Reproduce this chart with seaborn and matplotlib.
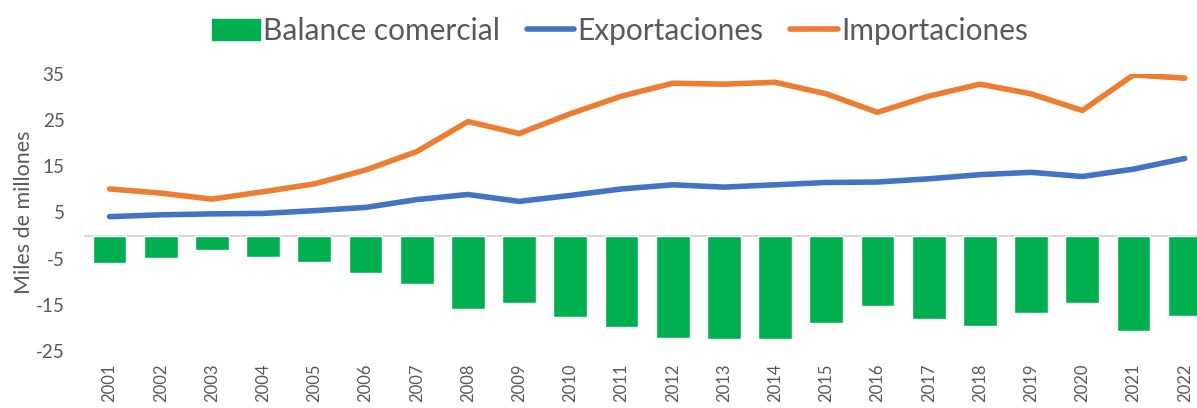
import numpy as np
import pandas as pd
import matplotlib
matplotlib.use('Agg')
import matplotlib.pyplot as plt
import seaborn as sns
from matplotlib.patches import Patch
from matplotlib.lines import Line2D

years = list(range(2001, 2023))
exportaciones = [4.1, 4.5, 4.7, 4.8, 5.4, 6.1, 7.8, 8.9, 7.4, 8.7, 10.1,
                 11.0, 10.5, 11.0, 11.5, 11.6, 12.3, 13.2, 13.7, 12.8, 14.4, 16.7]
importaciones = [10.1, 9.2, 7.9, 9.5, 11.2, 14.2, 18.2, 24.7, 22.1, 26.4, 30.2,
                 33.0, 32.8, 33.2, 30.7, 26.7, 30.2, 32.8, 30.7, 27.1, 34.8, 34.1]
balance = [-6.0, -4.9, -3.1, -4.7, -5.8, -8.1, -10.5, -15.9, -14.6, -17.7, -19.8,
           -22.1, -22.4, -22.4, -18.9, -15.2, -18.0, -19.5, -16.7, -14.6, -20.7, -17.5]

df = pd.DataFrame({'year': years, 'exp': exportaciones, 'imp': importaciones, 'bal': balance})

sns.set_style('white')
plt.rcParams['font.family'] = ['Lato', 'DejaVu Sans']
plt.rcParams['axes.unicode_minus'] = False
gray = '#595959'
green = '#00B050'
blue = '#4472C4'
orange = '#ED7D31'

fig = plt.figure(figsize=(11.97, 4.08), dpi=100)
ax = fig.add_axes([84 / 1197, 57 / 408, (1197 - 84) / 1197, 277 / 408])

ax.axhline(0, color='#d9d9d9', lw=1.5, zorder=0)
sns.barplot(data=df, x='year', y='bal', native_scale=True, color=green,
            saturation=1, width=0.66, ax=ax, zorder=2)
sns.lineplot(data=df, x='year', y='exp', color=blue, lw=4, ax=ax,
             solid_capstyle='round', zorder=3)
sns.lineplot(data=df, x='year', y='imp', color=orange, lw=4, ax=ax,
             solid_capstyle='round', zorder=3)

ax.set_ylim(-25, 35)
ax.set_yticks(range(-25, 36, 10))
ax.set_xlim(2000.5, 2022.24)
ax.set_xticks(years)
ax.set_xticklabels([str(y) for y in years], rotation=90)
ax.tick_params(axis='x', length=0, pad=9, labelsize=12, labelcolor=gray)
ax.tick_params(axis='y', length=0, pad=14, labelsize=13.5, labelcolor=gray)
ax.set_xlabel('')
ax.set_ylabel('Miles de millones', fontsize=15.5, color=gray, labelpad=1)
sns.despine(ax=ax, left=True, bottom=True)

handles = [Patch(color=green), Line2D([], [], color=blue, lw=4), Line2D([], [], color=orange, lw=4)]
fig.legend(handles, ['Balance comercial', 'Exportaciones', 'Importaciones'],
           loc='upper center', bbox_to_anchor=(0.518, 1.025), ncol=3, frameon=False,
           fontsize=21.5, labelcolor=gray, handlelength=1.6, handletextpad=0.1,
           columnspacing=0.9)

fig.savefig('out.png', dpi=100)
